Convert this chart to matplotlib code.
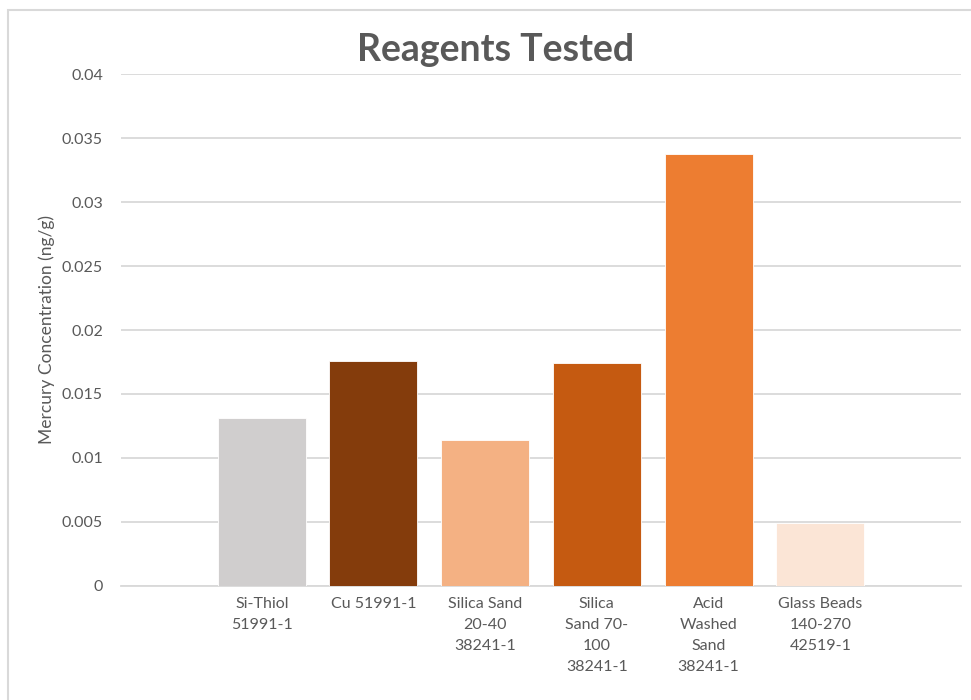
import matplotlib
matplotlib.use("Agg")
import matplotlib.pyplot as plt
from matplotlib.patches import Rectangle

# Reagent samples and measured mercury concentration (ng/g)
categories = [
    "Si-Thiol\n51991-1",
    "Cu 51991-1",
    "Silica Sand\n20-40\n38241-1",
    "Silica\nSand 70-\n100\n38241-1",
    "Acid\nWashed\nSand\n38241-1",
    "Glass Beads\n140-270\n42519-1",
]
concentrations = [0.0131, 0.0176, 0.0114, 0.0174, 0.0338, 0.0049]
bar_colors = ["#D0CECE", "#843C0C", "#F4B183", "#C55A11", "#ED7D31", "#FBE5D6"]
y_ticks = [0, 0.005, 0.01, 0.015, 0.02, 0.025, 0.03, 0.035, 0.04]
y_tick_labels = ["0", "0.005", "0.01", "0.015", "0.02", "0.025", "0.03", "0.035", "0.04"]

TEXT = "#595959"
GRID = "#D9D9D9"
plt.rcParams["font.family"] = ["Lato", "DejaVu Sans"]

fig = plt.figure(figsize=(9.71, 7.0), dpi=100)
ax = fig.add_axes([121 / 971, 1 - 585.7 / 700, 840 / 971, (585.7 - 74.3) / 700])

x = list(range(len(categories)))
ax.bar(x, concentrations, width=0.787, color=bar_colors, zorder=3,
       edgecolor="white", linewidth=0.6)

ax.set_xlim(-1.26, len(categories) - 1 + 1.26)
ax.set_ylim(0, 0.04)
ax.set_yticks(y_ticks)
ax.set_yticklabels(y_tick_labels)
ax.set_xticks(x)
ax.set_xticklabels(categories, linespacing=1.65)

ax.grid(axis="y", color=GRID, linewidth=1.3, zorder=0)
for side in ("left", "right", "top"):
    ax.spines[side].set_visible(False)
ax.spines["bottom"].set_color(GRID)
ax.spines["bottom"].set_linewidth(1.3)
ax.tick_params(axis="both", length=0, colors=TEXT, labelsize=11.5)
ax.tick_params(axis="y", pad=13)
ax.tick_params(axis="x", pad=8)

ax.set_ylabel("Mercury Concentration (ng/g)", color=TEXT, fontsize=12.5, labelpad=5)
fig.text(496 / 971, 1 - 50 / 700, "Reagents Tested", ha="center", va="center",
         fontsize=27, fontweight="bold", color=TEXT)

# chart-area frame
fig.patches.append(Rectangle((8 / 971, -0.05), 1.0, 1.05 - 10.5 / 700,
                             transform=fig.transFigure, fill=False,
                             edgecolor=GRID, linewidth=1.5))

fig.savefig("out.png", dpi=100)
